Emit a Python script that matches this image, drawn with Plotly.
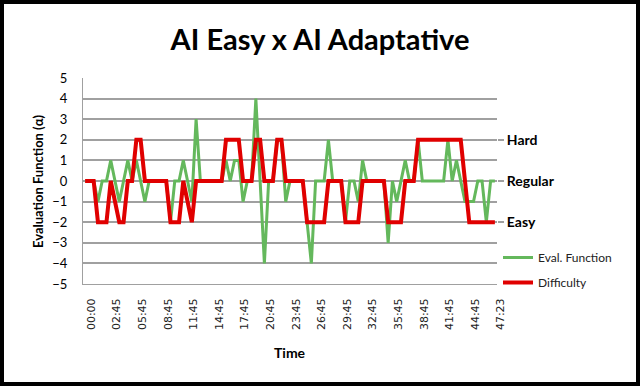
import plotly.graph_objects as go

# ---------------- data ----------------
tick_labels = ["00:00", "02:45", "05:45", "08:45", "11:45", "14:45", "17:45", "20:45",
               "23:45", "26:45", "29:45", "32:45", "35:45", "38:45", "41:45", "44:45", "47:23"]
samples_per_label = 6

eval_function = [
    0, 0, 0, -1, 0, 0, 1, 0, -1, 0,
    1, 0, 1, 0, -1, 0, 0, 0, 0, 0,
    -2, 0, 0, 1, 0, -1, 3, 0, 0, 0,
    0, 0, 0, 1, 0, 1, 1, -1, 0, 0,
    4, 0, -4, 0, 0, 2, 2, -1, 0, 0,
    0, 0, -2, -4, 0, 0, 0, 2, 0, 0,
    0, -2, 0, 0, -1, 1, 0, 0, 0, 0,
    0, -3, 0, -1, 0, 1, 0, 0, 2, 0,
    0, 0, 0, 0, 0, 2, 0, 1, 0, -1,
    -1, -1, 0, 0, -2, 0, 0,
]

difficulty = [
    0, 0, 0, -2, -2, -2, 0, -1, -2, -2,
    0, 0, 2, 2, 0, 0, 0, 0, 0, 0,
    -2, -2, -2, 0, -1, -2, 0, 0, 0, 0,
    0, 0, 0, 2, 2, 2, 2, 0, 0, 0,
    2, 2, 0, 0, 0, 2, 2, 0, 0, 0,
    0, 0, -2, -2, -2, -2, -2, 0, 0, 0,
    0, -2, -2, -2, -2, 0, 0, 0, 0, 0,
    0, -2, -2, -2, -2, 0, 0, 0, 2, 2,
    2, 2, 2, 2, 2, 2, 2, 2, 2, 0,
    -2, -2, -2, -2, -2, -2, -2,
]

y_ticks = [-5, -4, -3, -2, -1, 0, 1, 2, 3, 4, 5]
grid_values = [-4, -3, -2, -1, 0, 1, 2, 3, 4]
level_values = [-2, 0, 2]
level_names = ["Easy", "Regular", "Hard"]

# ---------------- layout geometry ----------------
W, H = 640, 386
ML, MR, MT, MB = 83, 143, 78, 102
PW, PH = W - ML - MR, H - MT - MB

def px_x(px):
    return (px - ML) / PW

def px_y(py):
    return (H - MB - py) / PH

GREEN = "#64B85C"
RED = "#E00000"
GRID = "#A0A0A0"
FONT = "Lato"

x = list(range(len(eval_function)))

fig = go.Figure()
fig.add_trace(go.Scatter(x=x, y=eval_function, mode="lines", name="Eval. Function",
                         line=dict(color=GREEN, width=3), legendgroup="g1"))
fig.add_trace(go.Scatter(x=x, y=difficulty, mode="lines", name="Difficulty",
                         line=dict(color=RED, width=4), legendgroup="g2"))
# invisible helpers so the overlay axes are drawn
fig.add_trace(go.Scatter(x=[x[0]], y=[0], yaxis="y2", mode="markers",
                         marker=dict(opacity=0), showlegend=False, hoverinfo="skip"))
fig.add_trace(go.Scatter(x=[x[0]], y=[0], yaxis="y3", mode="markers",
                         marker=dict(opacity=0), showlegend=False, hoverinfo="skip"))

fig.update_layout(
    width=W, height=H,
    margin=dict(l=ML, r=MR, t=MT, b=MB),
    paper_bgcolor="white", plot_bgcolor="white",
    title=dict(text="AI Easy x AI Adaptative", x=0.5, xref="container", xanchor="center",
               y=1 - 40 / H, yref="container", yanchor="middle",
               font=dict(family=FONT, size=29, color="black", weight="bold")),
    xaxis=dict(range=[-0.5, len(x) - 0.5],
               tickvals=[i * samples_per_label for i in range(len(tick_labels))],
               ticktext=tick_labels, tickangle=-90,
               tickfont=dict(family="DejaVu Sans", size=11, color="#222"),
               ticklabelstandoff=9, ticklabelshift=6,
               showgrid=False, zeroline=False, showline=True, linecolor=GRID, linewidth=1,
               ticks=""),
    yaxis=dict(range=[-5, 5], tickvals=y_ticks, showgrid=False, zeroline=False,
               showline=True, linecolor=GRID, linewidth=1, ticks="",
               ticklabelstandoff=12,
               tickfont=dict(family=FONT, size=13, color="black")),
    yaxis3=dict(range=[-5, 5], overlaying="y", side="left", tickvals=grid_values,
                showgrid=True, gridcolor=GRID, gridwidth=1.5, showticklabels=False,
                zeroline=False, showline=False, ticks=""),
    yaxis2=dict(range=[-5, 5], overlaying="y", side="right", tickvals=level_values,
                ticktext=level_names, ticks="outside", ticklen=6, tickcolor=GRID,
                tickwidth=1.5, showgrid=False, zeroline=False, showline=False,
                tickfont=dict(family=FONT, size=14, color="black", weight="bold")),
    legend=dict(x=px_x(498), xanchor="left", y=px_y(243), yanchor="top",
                font=dict(family=FONT, size=12, color="#222"),
                tracegroupgap=6, bgcolor="rgba(0,0,0,0)"),
    showlegend=True,
    annotations=[
        dict(text="Evaluation Function (α)", textangle=-90, xref="paper", yref="paper",
             x=px_x(38), y=px_y(181), xanchor="center", yanchor="middle", showarrow=False,
             font=dict(family=FONT, size=13, color="black", weight="bold")),
        dict(text="Time", xref="paper", yref="paper", x=px_x(290), y=px_y(352),
             xanchor="center", yanchor="middle", showarrow=False,
             font=dict(family=FONT, size=14, color="black", weight="bold")),
    ],
    shapes=[dict(type="rect", xref="paper", yref="paper",
                 x0=px_x(2), x1=px_x(638), y0=px_y(384), y1=px_y(2),
                 line=dict(color="black", width=4), fillcolor="rgba(0,0,0,0)", layer="above")],
)

fig.write_html("out.html", config={"displayModeBar": False},
               post_script="document.body.style.margin='0px';document.body.style.overflow='hidden';")
